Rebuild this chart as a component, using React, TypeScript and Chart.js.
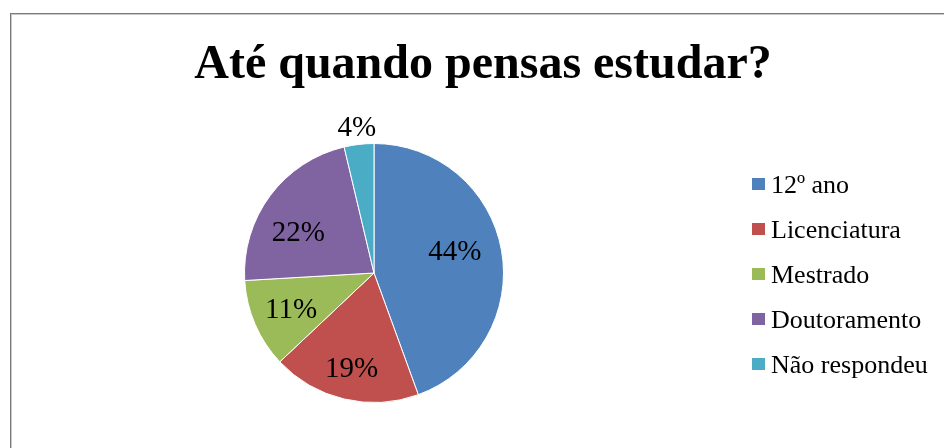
import React, { useEffect, useRef } from "react";
import { Chart, registerables } from "chart.js";

Chart.register(...registerables);

const TITLE = "Até quando pensas estudar?";
const categories = ["12º ano", "Licenciatura", "Mestrado", "Doutoramento", "Não respondeu"];
const shares = [44.4, 18.5, 11.1, 22.2, 3.7];
const colors = ["#4F81BD", "#C0504D", "#9BBB59", "#8064A2", "#4BACC6"];

// label placement tweaks (style only): [dx, dy] nudges from the default radial position
const labelNudges = [
  [-6, -8],
  [-2, 8],
  [-2, 0],
  [-5, 11],
  [0, 0],
];

const FONT = "'Liberation Serif', 'Times New Roman', serif";

const titlePlugin = {
  id: "customTitle",
  afterDraw(chart: any) {
    const ctx = chart.ctx;
    ctx.save();
    ctx.fillStyle = "#000";
    ctx.font = `bold 48px ${FONT}`;
    ctx.textAlign = "center";
    ctx.textBaseline = "alphabetic";
    ctx.fillText(TITLE, 483, 78);
    ctx.restore();
  },
};

const labelPlugin = {
  id: "sliceLabels",
  afterDatasetsDraw(chart: any) {
    const ctx = chart.ctx;
    const meta = chart.getDatasetMeta(0);
    const data = chart.data.datasets[0].data as number[];
    const total = data.reduce((a, b) => a + b, 0);
    ctx.save();
    ctx.fillStyle = "#000";
    ctx.font = `29px ${FONT}`;
    ctx.textAlign = "center";
    ctx.textBaseline = "alphabetic";
    meta.data.forEach((arc: any, i: number) => {
      const p = arc.getProps(["x", "y", "startAngle", "endAngle", "outerRadius"], true);
      const mid = (p.startAngle + p.endAngle) / 2;
      const frac = data[i] / total;
      const r = frac < 0.06 ? p.outerRadius + 19 : p.outerRadius * 0.68;
      const n = labelNudges[i] || [0, 0];
      const px = p.x + Math.cos(mid) * r + n[0];
      const py = p.y + Math.sin(mid) * r + n[1];
      ctx.fillText(Math.round(frac * 100) + "%", px, py + 10);
    });
    ctx.restore();
  },
};

const legendPlugin = {
  id: "sideLegend",
  afterDraw(chart: any) {
    const ctx = chart.ctx;
    const labels = chart.data.labels as string[];
    const bg = chart.data.datasets[0].backgroundColor as string[];
    ctx.save();
    ctx.font = `26px ${FONT}`;
    ctx.textAlign = "left";
    ctx.textBaseline = "alphabetic";
    labels.forEach((lab, i) => {
      const base = 193 + 45 * i;
      ctx.fillStyle = bg[i];
      ctx.fillRect(752, base - 15, 13, 12);
      ctx.fillStyle = "#000";
      ctx.fillText(lab, 771, base);
    });
    ctx.restore();
  },
};

export default function App() {
  const ref = useRef<HTMLCanvasElement | null>(null);
  useEffect(() => {
    if (!ref.current) return;
    const chart = new Chart(ref.current, {
      type: "pie",
      data: {
        labels: categories,
        datasets: [
          {
            data: shares,
            backgroundColor: colors,
            borderColor: "#ffffff",
            borderWidth: 1,
          },
        ],
      },
      options: {
        responsive: false,
        animation: false,
        layout: { padding: { top: 143, bottom: 45, left: 244, right: 440 } },
        plugins: {
          legend: { display: false },
          title: { display: false },
          tooltip: { enabled: false },
        },
      },
      plugins: [titlePlugin, labelPlugin, legendPlugin],
    });
    return () => chart.destroy();
  }, []);

  return (
    <div
      style={{
        position: "absolute",
        left: 0,
        top: 0,
        width: 944,
        height: 448,
        overflow: "hidden",
        background: "#fff",
      }}
    >
      <div
        style={{
          position: "absolute",
          left: 10,
          top: 13,
          width: 1200,
          height: 1200,
          borderLeft: "1px solid #7b7b7b",
          borderTop: "1px solid #7b7b7b",
          boxShadow: "inset 1px 1px 0 #c8c8c8",
        }}
      />
      <canvas
        ref={ref}
        width={944}
        height={448}
        style={{ position: "absolute", left: 0, top: 0, width: 944, height: 448 }}
      />
    </div>
  );
}
